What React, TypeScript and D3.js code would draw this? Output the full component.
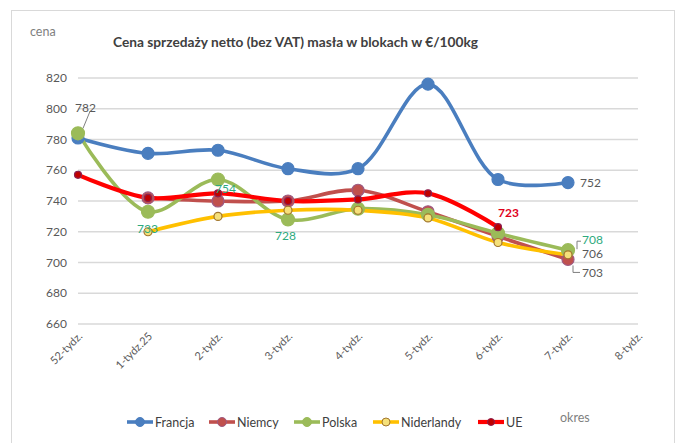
import React from "react";
import * as d3 from "d3";

const categories = ["52-tydz.", "1-tydz.25", "2-tydz.", "3-tydz.", "4-tydz.", "5-tydz.", "6-tydz.", "7-tydz.", "8-tydz."];
const seriesNames = ["Francja", "Niemcy", "Polska", "Niderlandy", "UE"];
const francja = [781, 771, 773, 761, 761, 816, 754, 752, null];
const niemcy = [null, 742, 740, 740, 747, 733, 717, 702, null];
const polska = [784, 733, 754, 728, 735, 731, 719, 708, null];
const niderlandy = [null, 720, 730, 734, 734, 729, 713, 705, null];
const ue = [757, 742, 745, 740, 741, 745, 723, null, null];
const yTicks = [660, 680, 700, 720, 740, 760, 780, 800, 820];
const title = "Cena sprzedaży netto (bez VAT) masła w blokach w €/100kg";

const W = 678, H = 443;
const font = "Lato, 'Open Sans', sans-serif";

export default function App() {
  const x = d3.scalePoint<string>().domain(categories).range([78, 638]);
  const y = d3.scaleLinear().domain([660, 820]).range([324, 78]);
  const data = [francja, niemcy, polska, niderlandy, ue];
  const styles = [
    { color: "#4A7EBF", width: 3.6, r: 6, fill: "#4A7EBF", stroke: "#4A7EBF" },
    { color: "#C0504D", width: 3.6, r: 6, fill: "#C0504D", stroke: "#9E5A82" },
    { color: "#9BBB59", width: 3.6, r: 6.5, fill: "#9BBB59", stroke: "#9BBB59" },
    { color: "#FFC000", width: 3.6, r: 4, fill: "#F5E07A", stroke: "#A2762E" },
    { color: "#FF0000", width: 4.2, r: 3.5, fill: "#C00000", stroke: "#8B2050" },
  ];
  const line = d3
    .line<number | null>()
    .defined((d) => d != null)
    .x((_, i) => x(categories[i]) as number)
    .y((d) => y(d as number))
    .curve(d3.curveCatmullRom.alpha(0.5));

  const px = (i: number) => x(categories[i]) as number;

  const labels = [
    { i: 0, v: 782, dx: -3, dy: -25, color: "#595959", bold: false, val: polska[0] },
    { i: 1, v: 733, dx: -11, dy: 17, color: "#2EAA7E", bold: false, val: polska[1] },
    { i: 2, v: 754, dx: -3, dy: 9.5, color: "#2EAA7E", bold: false, val: polska[2] },
    { i: 3, v: 728, dx: -13, dy: 16.5, color: "#2EAA7E", bold: false, val: polska[3] },
    { i: 6, v: 723, dx: 0, dy: -14, color: "#E0001B", bold: true, val: ue[6] },
    { i: 7, v: 752, dx: 12, dy: 0, color: "#595959", bold: false, val: francja[7] },
    { i: 7, v: 708, dx: 14, dy: -10, color: "#2EAA7E", bold: false, val: polska[7] },
    { i: 7, v: 706, dx: 14, dy: -0.5, color: "#595959", bold: false, val: niderlandy[7] },
    { i: 7, v: 703, dx: 14, dy: 14, color: "#595959", bold: false, val: niemcy[7] },
  ];

  const legendX = [127, 209, 294, 373, 478];

  return (
    <svg width={W} height={H} style={{ position: "absolute", left: 0, top: 0 }} fontFamily={font}>
      <rect x={0} y={0} width={W} height={H} fill="#fff" />
      <rect x={11.5} y={10.5} width={663} height={450} fill="#fff" stroke="#D9D9D9" />
      <text x={30} y={36} fontSize={12.5} fill="#7F7F7F">cena</text>
      <text x={113} y={47} fontSize={12.5} fontWeight="bold" fill="#404040" textLength={365} lengthAdjust="spacingAndGlyphs">{title}</text>
      {yTicks.map((t) => (
        <g key={t}>
          <line x1={78} x2={638} y1={y(t)} y2={y(t)} stroke="#D9D9D9" strokeWidth={1.3} />
          <text x={67} y={y(t) + 4} fontSize={12} textAnchor="end" fill="#595959">{t}</text>
        </g>
      ))}
      {categories.map((c) => (
        <text key={c} transform={`translate(${(x(c) as number) + 5},${337}) rotate(-45)`} fontSize={11} textAnchor="end" fill="#595959">{c}</text>
      ))}
      {data.map((s, k) => (
        <path key={k} d={line(s) || ""} fill="none" stroke={styles[k].color} strokeWidth={styles[k].width} strokeLinecap="round" />
      ))}
      {data.map((s, k) =>
        s.map((v, i) =>
          v == null ? null : (
            <circle key={`${k}-${i}`} cx={px(i)} cy={y(v)} r={styles[k].r} fill={styles[k].fill} stroke={styles[k].stroke} strokeWidth={1.2} />
          )
        )
      )}
      {/* leader lines */}
      <line x1={px(0) + 12} y1={y(784) - 22} x2={px(0) + 5} y2={y(784) - 5} stroke="#7F7F7F" strokeWidth={1} />
      <path d={`M${px(7) + 13},${y(708) - 9} h-4 v8`} fill="none" stroke="#7F7F7F" strokeWidth={1} />
      <path d={`M${px(7) + 5},${y(702) + 6} v7 h7`} fill="none" stroke="#7F7F7F" strokeWidth={1} />
      {labels.map((l, j) => (
        <text key={j} x={px(l.i) + l.dx} y={y(l.val as number) + l.dy + 4} fontSize={12} fontWeight={l.bold ? "bold" : "normal"} fill={l.color}>{l.v}</text>
      ))}
      {seriesNames.map((n, k) => (
        <g key={n}>
          <line x1={legendX[k]} x2={legendX[k] + 26} y1={422} y2={422} stroke={styles[k].color} strokeWidth={styles[k].width} />
          <circle cx={legendX[k] + 13} cy={422} r={Math.min(styles[k].r, 4.5)} fill={styles[k].fill} stroke={styles[k].stroke} strokeWidth={1} />
          <text x={legendX[k] + 28} y={426.5} fontSize={12.5} fill="#404040">{n}</text>
        </g>
      ))}
      <text x={560} y={422} fontSize={12.5} fill="#7F7F7F">okres</text>
    </svg>
  );
}
